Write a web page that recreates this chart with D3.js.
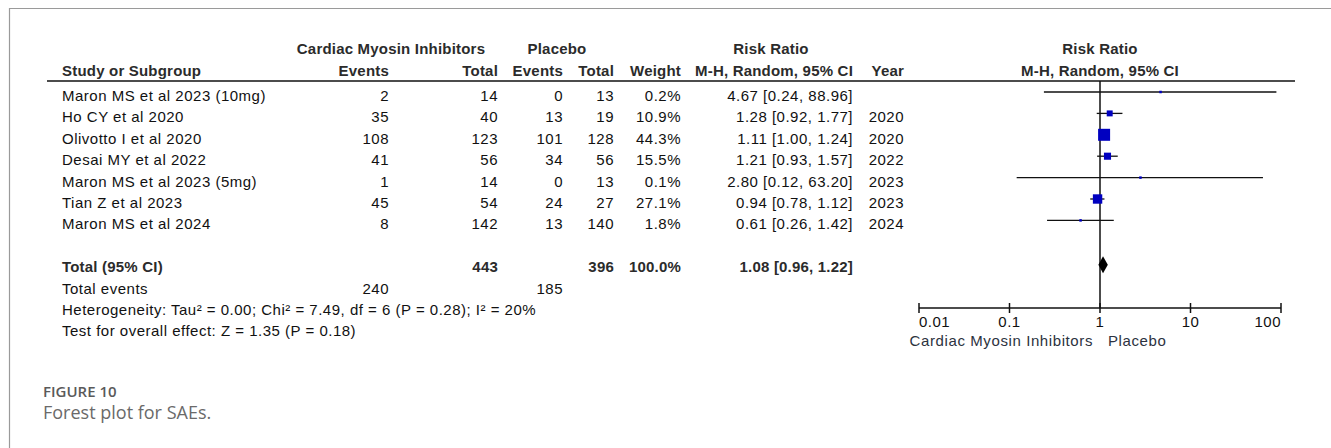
<!DOCTYPE html>
<html><head><meta charset="utf-8">
<script src="https://cdn.jsdelivr.net/npm/d3@7/dist/d3.min.js"></script>
<style>
html,body{margin:0;padding:0;background:#fff;}
svg{display:block;}
</style></head>
<body>
<svg id="c" width="1331" height="448"></svg>
<script>
const studies = ["Maron MS et al 2023 (10mg)","Ho CY et al 2020","Olivotto I et al 2020","Desai MY et al 2022","Maron MS et al 2023 (5mg)","Tian Z et al 2023","Maron MS et al 2024"];
const cmiEvents = [2,35,108,41,1,45,8];
const cmiTotal = [14,40,123,56,14,54,142];
const plEvents = [0,13,101,34,0,24,13];
const plTotal = [13,19,128,56,13,27,140];
const weights = [0.2,10.9,44.3,15.5,0.1,27.1,1.8];
const rr = [4.67,1.28,1.11,1.21,2.80,0.94,0.61];
const ciLow = [0.24,0.92,1.00,0.93,0.12,0.78,0.26];
const ciHigh = [88.96,1.77,1.24,1.57,63.20,1.12,1.42];
const years = ["","2020","2020","2022","2023","2023","2024"];
const totalCmi = 443, totalPl = 396, totalWeight = "100.0%";
const pooled = [1.08, 0.96, 1.22];
const eventsCmi = 240, eventsPl = 185;
const heterogeneity = "Heterogeneity: Tau\u00B2 = 0.00; Chi\u00B2 = 7.49, df = 6 (P = 0.28); I\u00B2 = 20%";
const overallTest = "Test for overall effect: Z = 1.35 (P = 0.18)";
const xTicks = [0.01,0.1,1,10,100];
const xTickLabels = ["0.01","0.1","1","10","100"];
const favours = ["Cardiac Myosin Inhibitors","Placebo"];

const svg = d3.select("#c");
const FONT = "'Liberation Sans', Arial, sans-serif";
const fmt2 = d3.format(".2f");
const ciText = (m,l,h) => `${fmt2(m)} [${fmt2(l)}, ${fmt2(h)}]`;

// card border
svg.append("path").attr("d","M9.5,448 V8.5 H1331").attr("fill","none").attr("stroke","#9a9a9a").attr("stroke-width",1.2);

const base = i => 101 + 21.4*i;
const x = d3.scaleLog().domain([0.01,100]).range([919,1281]);
const wSize = d3.scaleSqrt().domain([0,44.3]).range([0,12]);

function txt(xp, yp, s, opt={}) {
  return svg.append("text").attr("x",xp).attr("y",yp).text(s)
    .attr("font-family",FONT).attr("font-size",opt.size||15)
    .attr("font-weight",opt.bold?"bold":"normal")
    .attr("letter-spacing",opt.ls!==undefined?opt.ls:(opt.bold?0.2:0.5))
    .attr("text-anchor",opt.anchor||"start")
    .attr("fill",opt.fill||(opt.bold?"#2b2b2b":"#111"));
}

// headers
const h1 = 54, h2 = 76;
txt(391,h1,"Cardiac Myosin Inhibitors",{bold:true,anchor:"middle"});
txt(557,h1,"Placebo",{bold:true,anchor:"middle"});
txt(771,h1,"Risk Ratio",{bold:true,anchor:"middle"});
txt(x(1),h1,"Risk Ratio",{bold:true,anchor:"middle"});
txt(62,h2,"Study or Subgroup",{bold:true});
txt(389,h2,"Events",{bold:true,anchor:"end"});
txt(498,h2,"Total",{bold:true,anchor:"end"});
txt(563,h2,"Events",{bold:true,anchor:"end"});
txt(614,h2,"Total",{bold:true,anchor:"end"});
txt(681,h2,"Weight",{bold:true,anchor:"end"});
txt(853,h2,"M-H, Random, 95% CI",{bold:true,anchor:"end"});
txt(904,h2,"Year",{bold:true,anchor:"end"});
txt(x(1),h2,"M-H, Random, 95% CI",{bold:true,anchor:"middle"});

svg.append("line").attr("x1",47).attr("x2",1295).attr("y1",81).attr("y2",81).attr("stroke","#111").attr("stroke-width",1.5);

// study rows
studies.forEach((s,i)=>{
  const y = base(i);
  txt(62,y,s);
  txt(389,y,cmiEvents[i],{anchor:"end"});
  txt(498,y,cmiTotal[i],{anchor:"end"});
  txt(563,y,plEvents[i],{anchor:"end"});
  txt(614,y,plTotal[i],{anchor:"end"});
  txt(681,y,weights[i].toFixed(1)+"%",{anchor:"end"});
  txt(853,y,ciText(rr[i],ciLow[i],ciHigh[i]),{anchor:"end"});
  txt(904,y,years[i],{anchor:"end"});
});

// axis + null line
const axisY = 308;
svg.append("line").attr("x1",x(1)).attr("x2",x(1)).attr("y1",81).attr("y2",axisY).attr("stroke","#111").attr("stroke-width",1.5);

studies.forEach((s,i)=>{
  const y = base(i) - 9;
  svg.append("line").attr("x1",x(ciLow[i])).attr("x2",x(ciHigh[i])).attr("y1",y).attr("y2",y).attr("stroke","#111").attr("stroke-width",1.3);
  const sz = Math.max(2.5, wSize(weights[i]));
  svg.append("rect").attr("x",x(rr[i])-sz/2).attr("y",y-sz/2).attr("width",sz).attr("height",sz).attr("fill","#0000c0");
});

// total row
const tY = base(8);
txt(62,tY,"Total (95% CI)",{bold:true});
txt(498,tY,totalCmi,{bold:true,anchor:"end"});
txt(614,tY,totalPl,{bold:true,anchor:"end"});
txt(681,tY,totalWeight,{bold:true,anchor:"end"});
txt(853,tY,ciText(pooled[0],pooled[1],pooled[2]),{bold:true,anchor:"end"});
const dY = tY - 7.5;
svg.append("path").attr("d",`M${x(pooled[1])},${dY} L${x(pooled[0])},${dY-8.5} L${x(pooled[2])},${dY} L${x(pooled[0])},${dY+8.5} Z`).attr("fill","#000");

txt(62,base(9),"Total events");
txt(389,base(9),eventsCmi,{anchor:"end"});
txt(563,base(9),eventsPl,{anchor:"end"});
txt(62,base(10),heterogeneity);
txt(62,base(11),overallTest);

// x axis
const ax = svg.append("g").attr("transform",`translate(0,${axisY})`);
ax.append("line").attr("x1",x(0.01)).attr("x2",x(100)).attr("y1",0).attr("y2",0).attr("stroke","#111").attr("stroke-width",1.5);
xTicks.forEach((t,i)=>{
  ax.append("line").attr("x1",x(t)).attr("x2",x(t)).attr("y1",-5).attr("y2",5).attr("stroke","#111").attr("stroke-width",1.5);
  const anchor = i===0?"start":(i===xTicks.length-1?"end":"middle");
  svg.append("text").attr("x",x(t)).attr("y",axisY+19).text(xTickLabels[i])
    .attr("font-family",FONT).attr("font-size",15).attr("letter-spacing",0.5)
    .attr("text-anchor",anchor).attr("fill","#111");
});
txt(x(1)-7,axisY+38,favours[0],{anchor:"end",fill:"#2c3240",ls:0.6});
txt(x(1)+8,axisY+38,favours[1],{fill:"#2c3240",ls:0.6});

// caption
svg.append("text").attr("x",43).attr("y",397).text("FIGURE 10")
  .attr("font-family","'Open Sans', sans-serif").attr("font-size",15).attr("font-weight",600).attr("fill","#5a5a5a");
svg.append("text").attr("x",43).attr("y",419).text("Forest plot for SAEs.")
  .attr("font-family","'Open Sans', sans-serif").attr("font-size",18).attr("font-weight",400).attr("fill","#6a6a6a");
</script>
</body></html>
